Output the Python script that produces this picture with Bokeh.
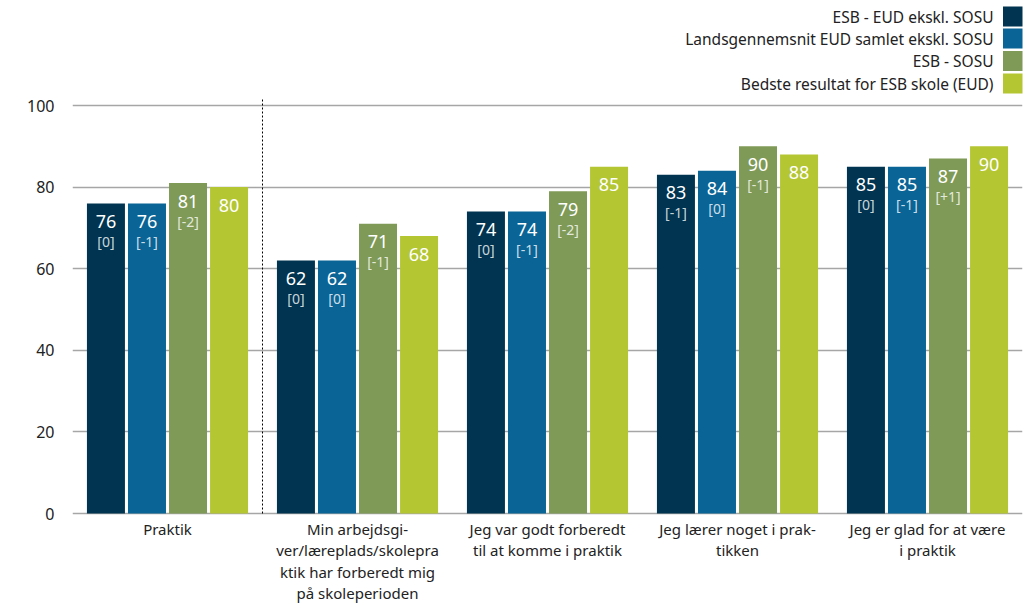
import numpy as np
from bokeh.plotting import figure
from bokeh.models import ColumnDataSource, FixedTicker, Range1d, Label
from bokeh.core.properties import value
from bokeh.embed import file_html
from bokeh.resources import INLINE

# ---------------- data ----------------
categories = [
    "Praktik",
    "Min arbejdsgi-\nver/læreplads/skolepra\nktik har forberedt mig\npå skoleperioden",
    "Jeg var godt forberedt\ntil at komme i praktik",
    "Jeg lærer noget i prak-\ntikken",
    "Jeg er glad for at være\ni praktik",
]
series_names = [
    "ESB - EUD ekskl. SOSU",
    "Landsgennemsnit EUD samlet ekskl. SOSU",
    "ESB - SOSU",
    "Bedste resultat for ESB skole (EUD)",
]
esb_eud = [76, 62, 74, 83, 85]
landsgennemsnit = [76, 62, 74, 84, 85]
esb_sosu = [81, 71, 79, 90, 87]
bedste = [80, 68, 85, 88, 90]
esb_eud_change = ["[0]", "[0]", "[0]", "[-1]", "[0]"]
landsgennemsnit_change = ["[-1]", "[0]", "[-1]", "[0]", "[-1]"]
esb_sosu_change = ["[-2]", "[-1]", "[-2]", "[-1]", "[+1]"]
bedste_change = ["", "", "", "", ""]
y_ticks = [0, 20, 40, 60, 80, 100]

# ---------------- style ----------------
colors = ["#003450", "#0A6496", "#7F9A57", "#B4C632"]
FONT = "Noto Sans"
TEXT_COLOR = "#222222"
W, H = 1030, 604
LEFT, RIGHT = 72, 8
BASE_Y = 513          # pixel row of value 0
PX_PER_UNIT = 4.08
FRAME_W = W - LEFT - RIGHT
UNIT_X = FRAME_W / len(categories)
Y_TOP = BASE_Y / PX_PER_UNIT
Y_BOTTOM = -(H - BASE_Y) / PX_PER_UNIT
offsets = [-0.324, -0.108, 0.108, 0.324]
bar_w = 0.2

p = figure(width=W, height=H, output_backend="svg", toolbar_location=None,
           x_range=Range1d(0, len(categories)), y_range=Range1d(Y_BOTTOM, Y_TOP),
           min_border_left=LEFT, min_border_right=RIGHT, min_border_top=0,
           min_border_bottom=0)
p.outline_line_color = None
p.background_fill_color = "white"
p.border_fill_color = "white"

# grid
p.xgrid.visible = False
p.ygrid.ticker = FixedTicker(ticks=y_ticks)
p.ygrid.grid_line_color = "#a6a6a6"
p.ygrid.grid_line_width = 1.5

# y axis
p.yaxis.ticker = FixedTicker(ticks=y_ticks)
p.yaxis.axis_line_color = None
p.yaxis.major_tick_line_color = None
p.yaxis.minor_tick_line_color = None
p.yaxis.major_label_standoff = 12
p.yaxis.major_label_text_font = FONT
p.yaxis.major_label_text_font_size = "16px"
p.yaxis.major_label_text_color = TEXT_COLOR

# x axis: category labels drawn below the baseline
p.xaxis.visible = False
idx = np.arange(len(categories))
csrc = ColumnDataSource(dict(x=idx + 0.5, y=[0] * len(categories), name=categories))
p.text(x="x", y="y", text="name", source=csrc, y_offset=5,
       text_align="center", text_baseline="top", text_color=TEXT_COLOR,
       text_font=value(FONT), text_font_size="15px", text_line_height=1.08)

# separator
p.segment(x0=[1], y0=[0], x1=[1], y1=[101.5], line_color="#000000",
          line_dash="2 2", line_width=1)

series = [
    (esb_eud, esb_eud_change),
    (landsgennemsnit, landsgennemsnit_change),
    (esb_sosu, esb_sosu_change),
    (bedste, bedste_change),
]
for k, (vals, chg) in enumerate(series):
    src = ColumnDataSource(dict(
        x=idx + 0.5 + offsets[k], top=vals,
        lab=[str(v) for v in vals], chg=chg))
    p.vbar(x="x", top="top", width=bar_w, bottom=0, source=src,
           fill_color=colors[k], line_color=None)
    p.text(x="x", y="top", text="lab", source=src, y_offset=18,
           text_align="center", text_baseline="middle", text_color="white",
           text_font=value(FONT), text_font_size="18px")
    p.text(x="x", y="top", text="chg", source=src, y_offset=38,
           text_align="center", text_baseline="middle", text_color="white",
           text_alpha=0.8, text_font=value(FONT), text_font_size="14px")

# legend (label left, swatch right)
row_cy = [16, 38, 60.5, 83]
leg_y = [(BASE_Y - c) / PX_PER_UNIT for c in row_cy]
text_x = (993 - LEFT) / UNIT_X
box_x = (1012.5 - LEFT) / UNIT_X
lsrc = ColumnDataSource(dict(y=leg_y, name=series_names, color=colors,
                             tx=[text_x] * 4, bx=[box_x] * 4))
p.text(x="tx", y="y", text="name", source=lsrc, text_align="right",
       text_baseline="middle", text_color=TEXT_COLOR,
       text_font=value(FONT), text_font_size="15.5px")
p.rect(x="bx", y="y", width=20, height=20, width_units="screen",
       height_units="screen", fill_color="color", line_color=None, source=lsrc)

# y axis title
p.add_layout(Label(x=(20 - LEFT) / UNIT_X, y=52, text="Vurdering",
                   angle=np.pi / 2, text_align="center", text_baseline="middle",
                   text_font=FONT, text_font_size="14px", text_color=TEXT_COLOR))

open("out.html", "w").write(file_html(p, INLINE))
